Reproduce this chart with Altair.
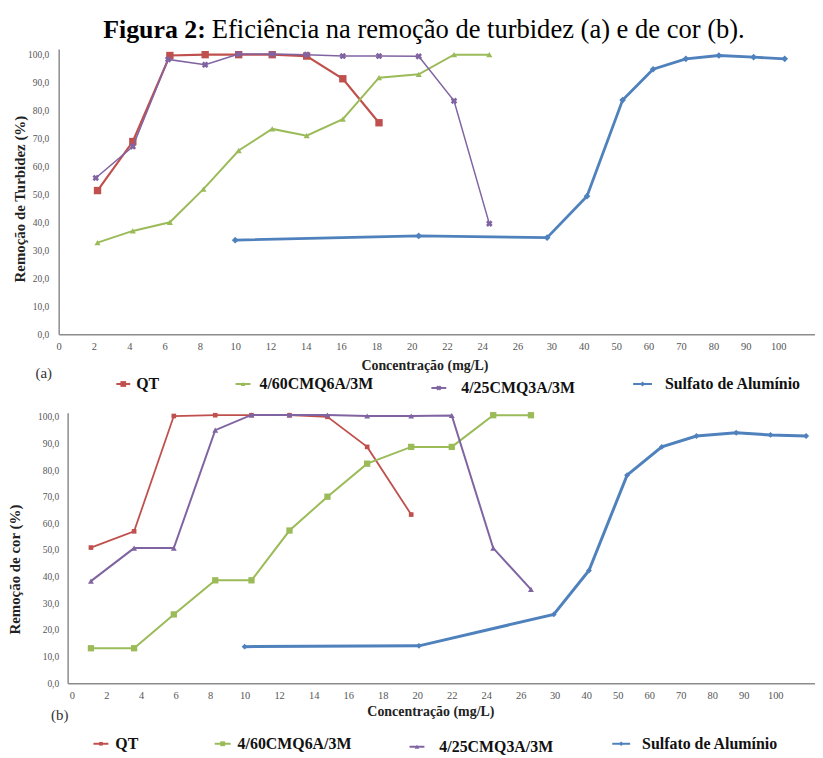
import altair as alt
import pandas as pd

SERIF = "Liberation Serif"

TITLE_BOLD = "Figura 2:"
TITLE_REST = "Eficiência na remoção de turbidez (a) e de cor (b)."
SERIES = ["QT", "4/60CMQ6A/3M", "4/25CMQ3A/3M", "Sulfato de Alumínio"]
X_TICKS = [0, 2, 4, 6, 8, 10, 12, 14, 16, 18, 20, 22, 24, 26, 30, 40, 50, 60, 70, 80, 90, 100]
Y_TICKS = [0, 10, 20, 30, 40, 50, 60, 70, 80, 90, 100]

# ---- (a) Remoção de turbidez ----
a_qt_x = [2.2, 4.2, 6.3, 8.3, 10.2, 12.1, 14.05, 16.1, 18.15]
a_qt_y = [51.3, 68.8, 99.5, 99.8, 99.8, 99.8, 99.3, 91.2, 75.5]
a_g_x = [2.2, 4.2, 6.3, 8.2, 10.2, 12.1, 14.05, 16.1, 18.15, 20.4, 22.4, 24.4]
a_g_y = [32.7, 36.9, 40.0, 51.8, 65.6, 73.3, 70.9, 76.8, 91.6, 92.8, 99.8, 99.8]
a_p_x = [2.1, 4.2, 6.2, 8.3, 10.2, 12.1, 14.05, 16.1, 18.15, 20.4, 22.4, 24.4]
a_p_y = [55.8, 67.0, 98.1, 96.2, 100.0, 100.0, 99.8, 99.3, 99.3, 99.2, 83.3, 39.5]
a_al_x = [10, 20.4, 29.5, 41, 52, 61.4, 71.5, 81.7, 92.4, 102]
a_al_y = [33.6, 35.1, 34.5, 49.3, 83.6, 94.6, 98.3, 99.5, 98.9, 98.3]

# ---- (b) Remoção de cor ----
b_qt_x = [1.1, 3.6, 5.9, 8.3, 10.4, 12.6, 14.8, 17.1, 19.65]
b_qt_y = [50.9, 57.0, 100.3, 100.6, 100.6, 100.6, 100.0, 88.7, 63.3]
b_g_x = [1.1, 3.6, 5.9, 8.3, 10.4, 12.6, 14.8, 17.1, 19.65, 22.0, 24.4, 27.2]
b_g_y = [13.1, 13.1, 25.8, 38.6, 38.6, 57.3, 70.0, 82.4, 88.7, 88.7, 100.6, 100.6]
b_p_x = [1.1, 3.6, 5.9, 8.3, 10.4, 12.6, 14.8, 17.1, 19.65, 22.0, 24.4, 27.2]
b_p_y = [38.3, 50.7, 50.7, 95.0, 100.7, 100.7, 100.7, 100.3, 100.3, 100.5, 50.7, 35.2]
b_al_x = [10, 20.1, 29.9, 40.9, 53, 64, 75, 87.6, 98.5, 109.8]
b_al_y = [13.7, 14.0, 25.8, 42.3, 78.1, 88.7, 92.8, 94.0, 93.2, 92.8]

COLORS = ["#C0504D", "#9BBB59", "#8064A2", "#4F81BD"]

STYLE_A = [
    dict(color=COLORS[0], shape="square", size=55, sw=2.2, angle=0),
    dict(color=COLORS[1], shape="triangle-up", size=38, sw=2.0, angle=0),
    dict(color=COLORS[2], shape="cross", size=45, sw=1.5, angle=45),
    dict(color=COLORS[3], shape="diamond", size=45, sw=2.8, angle=0),
]
STYLE_B = [
    dict(color=COLORS[0], shape="square", size=22, sw=1.8, angle=0),
    dict(color=COLORS[1], shape="square", size=40, sw=2.0, angle=0),
    dict(color=COLORS[2], shape="triangle-up", size=35, sw=2.0, angle=0),
    dict(color=COLORS[3], shape="diamond", size=35, sw=3.0, angle=0),
]

LABEL_EXPR_Y = "replace(format(datum.value, '.1f'), '.', ',')"
AXIS_GREY = "#8c8c8c"


def text_layer(txt, x, y, size, weight="normal", align="left", baseline="alphabetic", color="#111"):
    return alt.Chart(pd.DataFrame({"t": [txt]})).mark_text(
        font=SERIF, fontSize=size, fontWeight=weight, align=align, baseline=baseline, color=color
    ).encode(x=alt.value(x), y=alt.value(y), text="t:N")


def legend_layers(styles, sym_x, text_x, base_y, dy):
    out = []
    for i, (name, st) in enumerate(zip(SERIES, styles)):
        by = base_y + dy[i]
        sy = by - 5
        x0, x1 = sym_x[i]
        out.append(alt.Chart(pd.DataFrame({"t": [0]})).mark_rule(color=st["color"], strokeWidth=2).encode(
            x=alt.value(x0), x2=alt.value(x1), y=alt.value(sy)))
        out.append(alt.Chart(pd.DataFrame({"t": [0]})).mark_point(
            shape=st["shape"], filled=True, size=st["size"] * 0.6, color=st["color"], angle=st["angle"], opacity=1
        ).encode(x=alt.value((x0 + x1) / 2), y=alt.value(sy)))
        out.append(text_layer(name, text_x[i], by, 16, weight="bold"))
    return out


def panel(series, styles, xscale, yscale, xaxis, yaxis, w, h, extras):
    layers = []
    for (xs, ys), st in zip(series, styles):
        df = pd.DataFrame({"c": xs, "v": ys})
        enc = dict(x=alt.X("c:Q", scale=xscale, axis=xaxis), y=alt.Y("v:Q", scale=yscale, axis=yaxis))
        layers.append(alt.Chart(df).mark_line(color=st["color"], strokeWidth=st["sw"]).encode(**enc))
        layers.append(alt.Chart(df).mark_point(
            shape=st["shape"], filled=True, size=st["size"], color=st["color"], angle=st["angle"], opacity=1
        ).encode(**enc))
    return alt.layer(*layers, *extras).properties(width=w, height=h)


def x_axis(title_x, title_y, pad):
    return alt.Axis(
        values=X_TICKS, format="d", title="Concentração (mg/L)", grid=False, ticks=False,
        domainColor=AXIS_GREY, domainWidth=1.5, labelFont=SERIF, labelFontSize=10.5, labelColor="#555",
        labelPadding=pad, labelFlush=False, labelOverlap=False, labelBound=False,
        titleFont=SERIF, titleFontSize=14, titleFontWeight="bold", titleColor="#222",
        titleX=title_x, titleY=title_y, titleAlign="center", titleBaseline="middle",
    )


def y_axis(title, title_x, title_y, pad, offset=0):
    return alt.Axis(
        values=Y_TICKS, labelExpr=LABEL_EXPR_Y, title=title, grid=False, ticks=False, offset=offset,
        domainColor=AXIS_GREY, domainWidth=1.5, labelFont=SERIF, labelFontSize=9.5, labelColor="#555",
        labelPadding=pad, labelFlush=False, labelOverlap=False, labelBound=False,
        titleFont=SERIF, titleFontSize=15, titleFontWeight="bold", titleColor="#222",
        titleX=title_x, titleY=title_y, titleAngle=270, titleAlign="center", titleBaseline="middle",
    )


W = 761
HA = 287
HB = 272

# panel (a)
xs_a = alt.Scale(domain=[0, 26, 30, 100, 111.3], range=[0, 461.7, 495.7, 724, W], nice=False, zero=False)
ys_a = alt.Scale(domain=[0, 101.8], nice=False)
extras_a = [
    text_layer(TITLE_BOLD, 148, -11, 26, weight="bold", align="right", color="#000"),
    text_layer(TITLE_REST, 154, -11, 26.7, align="left", color="#000"),
    text_layer("(a)", -15, 326, 15, baseline="middle", align="center", color="#333"),
] + legend_layers(
    STYLE_A,
    sym_x=[(58, 72), (178, 193), (375, 390), (578, 597)],
    text_x=[78, 202, 405, 610],
    base_y=342, dy=[0, 0, 4, 0],
)
pa = panel(
    [(a_qt_x, a_qt_y), (a_g_x, a_g_y), (a_p_x, a_p_y), (a_al_x, a_al_y)], STYLE_A,
    xs_a, ys_a, x_axis(368, 31, 7), y_axis("Remoção de Turbidez (%)", -39.3, 150.5, 10), W, HA, extras_a,
)

# panel (b)
xs_b = alt.Scale(domain=[-0.25, 26, 30, 100, 112.6], range=[9, 465, 499, 721, W], nice=False, zero=False)
ys_b = alt.Scale(domain=[0, 101.5], nice=False)
extras_b = [
    text_layer("(b)", 1, 304, 15, baseline="middle", align="center", color="#333"),
] + legend_layers(
    STYLE_B,
    sym_x=[(35, 50), (157, 173), (353, 368), (557, 575)],
    text_x=[57, 180, 383, 587],
    base_y=338, dy=[0, 0, 3, 0],
)
pb = panel(
    [(b_qt_x, b_qt_y), (b_g_x, b_g_y), (b_p_x, b_p_y), (b_al_x, b_al_y)], STYLE_B,
    xs_b, ys_b, x_axis(374, 29, 7), y_axis("Remoção de cor (%)", -53, 157.3, 9, offset=-9), W, HB, extras_b,
)

chart = alt.vconcat(pa, pb, spacing=15).properties(
    padding={"left": 0, "top": 7, "right": 0, "bottom": 0},
    background="white",
).configure_view(stroke=None)

chart.save("out.html", embed_options={"renderer": "svg", "actions": False})
